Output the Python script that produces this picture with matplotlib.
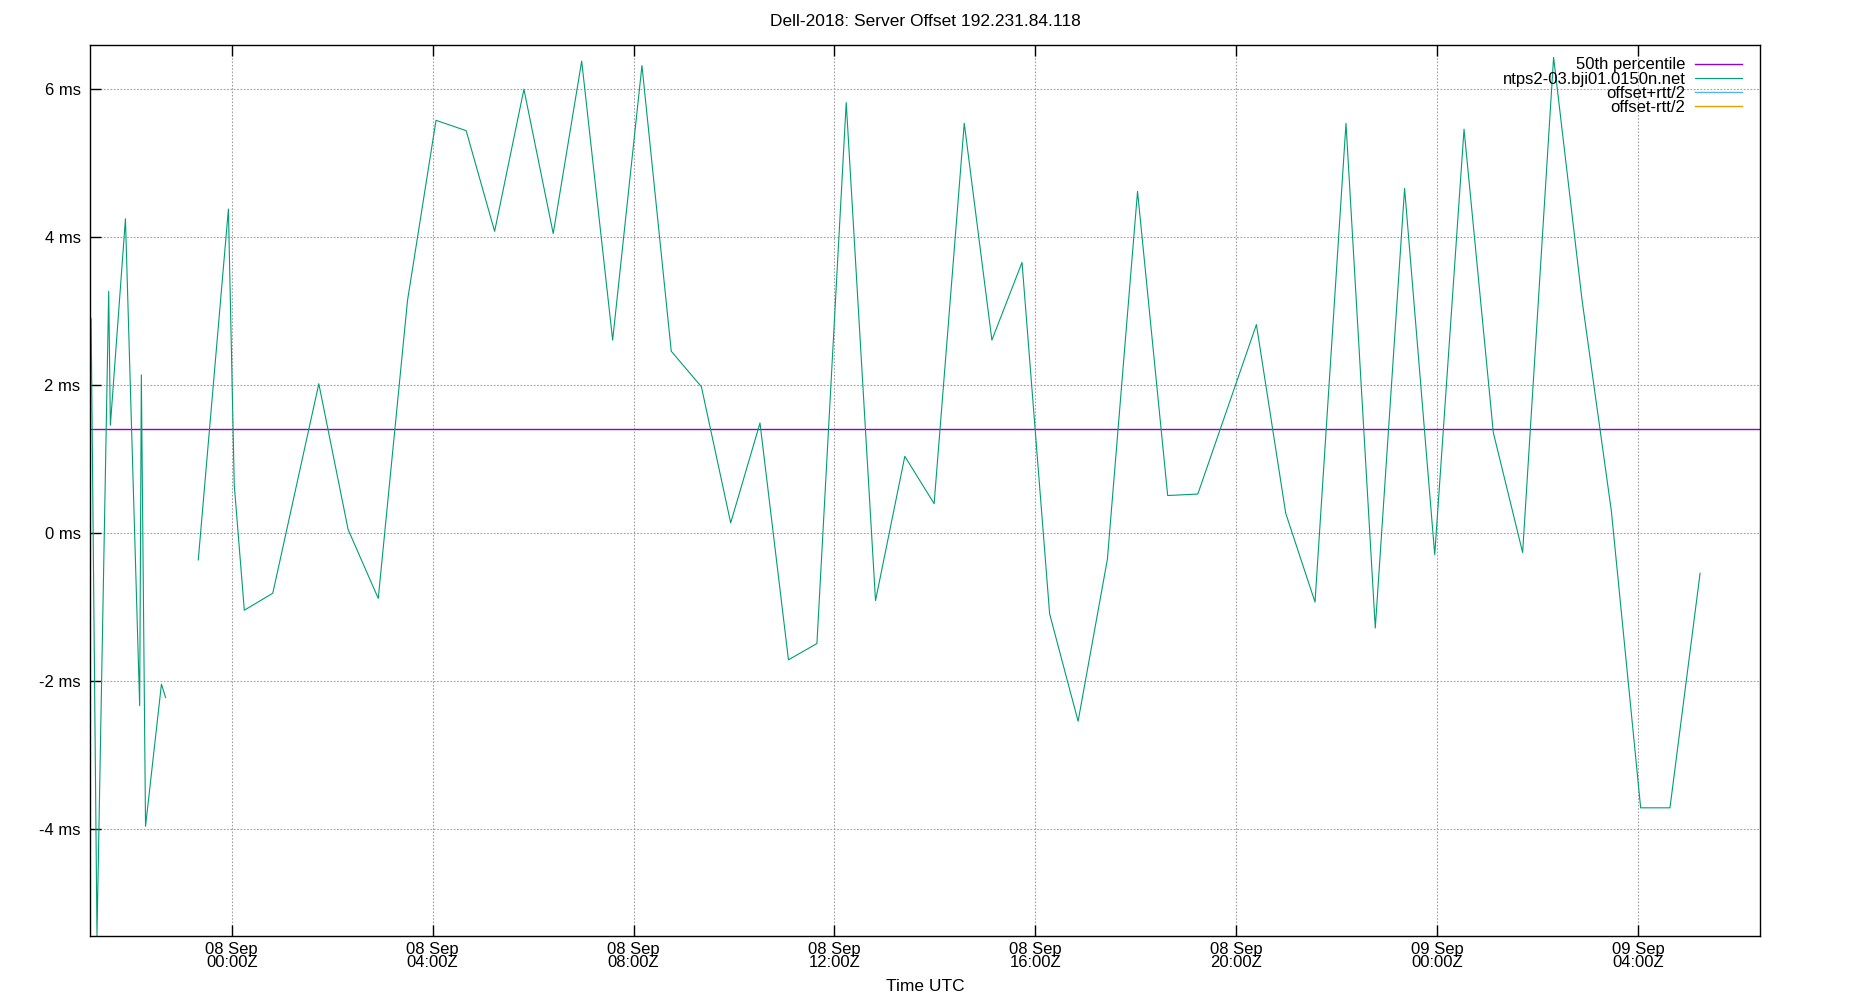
import numpy as np
import pandas as pd
import matplotlib
matplotlib.use("Agg")
import matplotlib.pyplot as plt
import matplotlib.dates as mdates
from matplotlib.ticker import FuncFormatter, FixedLocator

plt.rcParams['font.family'] = ['Liberation Sans', 'DejaVu Sans']

# sample times (UTC) and offsets (ms); None marks the gap in the data
times = [
    "2018-09-07 21:12", "2018-09-07 21:19", "2018-09-07 21:33", "2018-09-07 21:35",
    "2018-09-07 21:53", "2018-09-07 22:10", "2018-09-07 22:12", "2018-09-07 22:17",
    "2018-09-07 22:36", "2018-09-07 22:41", "2018-09-07 23:00",
    "2018-09-07 23:20", "2018-09-07 23:56", "2018-09-08 00:03", "2018-09-08 00:15",
    "2018-09-08 00:49", "2018-09-08 01:44", "2018-09-08 02:19", "2018-09-08 02:55",
    "2018-09-08 03:30", "2018-09-08 04:04", "2018-09-08 04:40", "2018-09-08 05:14",
    "2018-09-08 05:49", "2018-09-08 06:24", "2018-09-08 06:58", "2018-09-08 07:35",
    "2018-09-08 08:10", "2018-09-08 08:45", "2018-09-08 09:21", "2018-09-08 09:56",
    "2018-09-08 10:31", "2018-09-08 11:05", "2018-09-08 11:39", "2018-09-08 12:14",
    "2018-09-08 12:49", "2018-09-08 13:24", "2018-09-08 13:59", "2018-09-08 14:35",
    "2018-09-08 15:08", "2018-09-08 15:44", "2018-09-08 16:17", "2018-09-08 16:51",
    "2018-09-08 17:26", "2018-09-08 18:02", "2018-09-08 18:38", "2018-09-08 19:14",
    "2018-09-08 20:24", "2018-09-08 20:59", "2018-09-08 21:34", "2018-09-08 22:11",
    "2018-09-08 22:46", "2018-09-08 23:21", "2018-09-08 23:57", "2018-09-09 00:32",
    "2018-09-09 01:07", "2018-09-09 01:42", "2018-09-09 02:19", "2018-09-09 02:53",
    "2018-09-09 03:28", "2018-09-09 04:03", "2018-09-09 04:38", "2018-09-09 05:14",
]
offset_ms = [
    2.90, -5.44, 3.27, 1.46,
    4.25, -2.33, 2.14, -3.96,
    -2.04, -2.22, None,
    -0.36, 4.38, 0.65, -1.04,
    -0.81, 2.02, 0.05, -0.88,
    3.15, 5.58, 5.44, 4.08,
    6.00, 4.05, 6.38, 2.61,
    6.32, 2.46, 1.98, 0.14,
    1.49, -1.71, -1.49, 5.82,
    -0.91, 1.04, 0.40, 5.54,
    2.61, 3.66, -1.09, -2.54,
    -0.35, 4.62, 0.51, 0.53,
    2.82, 0.27, -0.93, 5.54,
    -1.28, 4.66, -0.29, 5.46,
    1.36, -0.26, 6.43, 3.15,
    0.30, -3.71, -3.71, -0.54,
]
median_ms = 1.405

x_start = "2018-09-07 21:11"
x_end = "2018-09-09 06:25"
y_range = (-5.442, 6.595)
y_ticks = [-4, -2, 0, 2, 4, 6]

t = pd.to_datetime(times)
v = np.array([np.nan if o is None else o for o in offset_ms], dtype=float)
t0, t1 = pd.Timestamp(x_start), pd.Timestamp(x_end)

fig = plt.figure(figsize=(18.5, 10), dpi=100)
ax = fig.add_axes([0.0488, 0.064, 0.9023, 0.8908])

ax.plot([t0, t1], [median_ms, median_ms], color='#9400d3', lw=1.0, label='50th percentile')
ax.plot(t, v, color='#009e73', lw=0.8, label='ntps2-03.bji01.0150n.net')
ax.plot([], [], color='#56b4e9', lw=1.0, label='offset+rtt/2')
ax.plot([], [], color='#e69f00', lw=1.0, label='offset-rtt/2')

ax.set_xlim(t0, t1)
ax.set_ylim(*y_range)

ax.yaxis.set_major_locator(FixedLocator(y_ticks))
ax.yaxis.set_major_formatter(FuncFormatter(lambda val, pos: "%g ms" % val))
ax.xaxis.set_major_locator(mdates.HourLocator(byhour=[0, 4, 8, 12, 16, 20]))
ax.xaxis.set_major_formatter(mdates.DateFormatter("%d %b\n%H:%MZ"))

ax.tick_params(axis='both', direction='in', length=7.7, width=1.0,
               labelsize=12, colors='black')
ax.tick_params(axis='y', pad=7, right=False)
ax.tick_params(axis='x', pad=4, top=True)
for lab in ax.get_xticklabels():
    lab.set_linespacing(0.88)

ax.grid(True, color='#a0a0a0', lw=0.8, linestyle=(0, (1.5, 1.5)))
for s in ax.spines.values():
    s.set_linewidth(1.0)
    s.set_color('black')

fig.text(0.5, 1 - 21.7 / 1000, "Dell-2018: Server Offset 192.231.84.118",
         ha='center', va='center', fontsize=12.5)
fig.text(0.5, 1 - 986.7 / 1000, "Time UTC", ha='center', va='center', fontsize=12.5)

ax.legend(loc='upper right', frameon=False, markerfirst=False, fontsize=12,
          handlelength=2.8, handletextpad=0.6, labelspacing=-0.05,
          borderpad=0, borderaxespad=0,
          bbox_to_anchor=(1742 / 1850, 1 - 57.5 / 1000), bbox_transform=fig.transFigure)

fig.savefig("out.png", dpi=100)
